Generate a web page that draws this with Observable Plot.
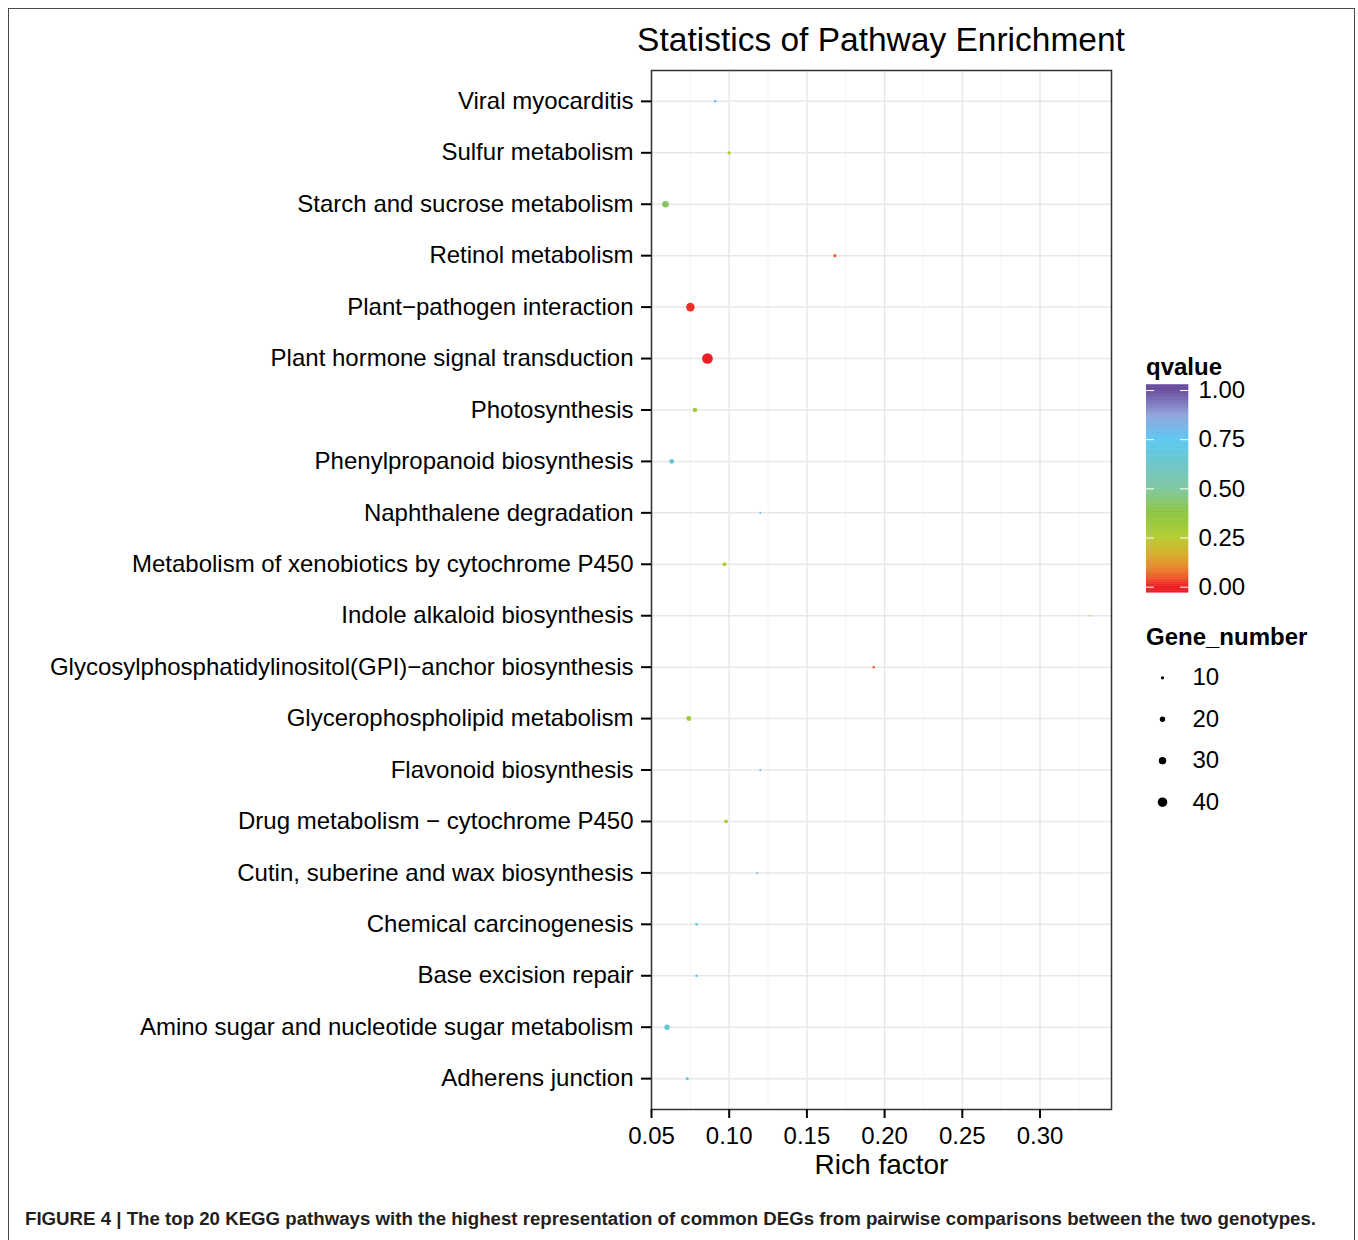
<!DOCTYPE html>
<html>
<head>
<meta charset="utf-8">
<script src="https://cdn.jsdelivr.net/npm/d3@7"></script>
<script src="https://cdn.jsdelivr.net/npm/@observablehq/plot@0.6"></script>
<style>
  body { margin: 0; background: #fff; font-family: "Liberation Sans", Arial, Helvetica, sans-serif; }
  #wrap { position: relative; width: 1358px; height: 1240px; overflow: hidden; background: #fff; }
  #frame { position: absolute; left: 8px; top: 8px; width: 1347px; height: 1300px; border: 1.5px solid #4a4a4a; box-sizing: border-box; }
  #title { position: absolute; left: 581px; width: 600px; top: 20px; text-align: center; font-size: 33.5px; line-height: 40px; color: #000; white-space: nowrap; }
  .legtitle { position: absolute; left: 1146px; font-size: 24px; font-weight: bold; color: #000; line-height: 26px; white-space: nowrap; }
  .abs { position: absolute; }
</style>
</head>
<body>
<div id="wrap">
  <div id="frame"></div>
  <div id="main" class="abs" style="left:0;top:0"></div>
  <div id="title">Statistics of Pathway Enrichment</div>
  <div class="legtitle" style="top:354px">qvalue</div>
  <div id="cbar" class="abs" style="left:1146px;top:370px"></div>
  <div class="legtitle" style="top:624px">Gene_number</div>
  <div id="sizeleg" class="abs" style="left:1140px;top:650px"></div>
  <svg class="abs" style="left:0;top:1195px" width="1358" height="45">
    <text x="25" y="30" font-size="18" font-weight="bold" fill="#231f20" textLength="1291" lengthAdjust="spacingAndGlyphs" font-family="Liberation Sans, Arial, sans-serif">FIGURE 4 | The top 20 KEGG pathways with the highest representation of common DEGs from pairwise comparisons between the two genotypes.</text>
  </svg>
</div>
<script>
// ---- data (top to bottom as in the figure) ----
const pathways = [
  "Viral myocarditis",
  "Sulfur metabolism",
  "Starch and sucrose metabolism",
  "Retinol metabolism",
  "Plant\u2212pathogen interaction",
  "Plant hormone signal transduction",
  "Photosynthesis",
  "Phenylpropanoid biosynthesis",
  "Naphthalene degradation",
  "Metabolism of xenobiotics by cytochrome P450",
  "Indole alkaloid biosynthesis",
  "Glycosylphosphatidylinositol(GPI)\u2212anchor biosynthesis",
  "Glycerophospholipid metabolism",
  "Flavonoid biosynthesis",
  "Drug metabolism \u2212 cytochrome P450",
  "Cutin, suberine and wax biosynthesis",
  "Chemical carcinogenesis",
  "Base excision repair",
  "Amino sugar and nucleotide sugar metabolism",
  "Adherens junction"
];
const richFactor = [0.091, 0.100, 0.059, 0.168, 0.075, 0.086, 0.078, 0.063, 0.120, 0.097,
                    0.332, 0.193, 0.074, 0.120, 0.098, 0.118, 0.079, 0.079, 0.060, 0.073];
const qvalue = [0.78, 0.27, 0.42, 0.05, 0.015, 0.0, 0.30, 0.66, 0.78, 0.26,
                0.28, 0.06, 0.29, 0.78, 0.27, 0.82, 0.77, 0.77, 0.66, 0.74];
const geneNumber = [7, 10, 26, 9, 35, 45, 15, 17, 4, 13,
                    2, 6, 18, 4, 12, 4, 7, 7, 20, 9];

const xTicks = [0.05, 0.10, 0.15, 0.20, 0.25, 0.30];
const xMinor = [0.075, 0.125, 0.175, 0.225, 0.275, 0.325];
const qTicks = [0, 0.25, 0.5, 0.75, 1];
const sizeTicks = [10, 20, 30, 40];

const data = pathways.map((p, i) => ({pathway: p, rich: richFactor[i], q: qvalue[i], genes: geneNumber[i]}));

// scales shared by the plot and the legends
const colorScale = {
  type: "linear",
  domain: [0, 0.05, 0.1, 0.16, 0.25, 0.3, 0.375, 0.5, 0.625, 0.75, 0.875, 1],
  range: ["#ee1c25", "#f05a28", "#e8862a", "#d8aa28", "#b8cc30", "#a2ca36", "#8dc63f", "#80c7a0", "#6cc6c8", "#5bc8f2", "#8fa3dc", "#6a4c9f"],
  clamp: true
};
const rScale = {type: "linear", domain: [10, 40], range: [1.65, 4.8]};
const font = "Liberation Sans, Arial, Helvetica, sans-serif";

// ---- main plot ----
const main = Plot.plot({
  width: 1358,
  height: 1192,
  marginLeft: 651,
  marginRight: 247,
  marginTop: 70,
  marginBottom: 83,
  style: {fontFamily: font, fontSize: "24px", color: "#000", background: "transparent"},
  x: {domain: [0.05, 0.346], label: null},
  y: {type: "point", domain: pathways, padding: 0.6, round: false, label: null},
  r: rScale,
  color: colorScale,
  marks: [
    Plot.ruleX(xMinor, {stroke: "#f4f4f4", strokeWidth: 1}),
    Plot.ruleX(xTicks, {stroke: "#e8e8e8", strokeWidth: 1.5}),
    Plot.ruleY(pathways, {y: d => d, stroke: "#e8e8e8", strokeWidth: 1.5}),
    Plot.dot(data, {x: "rich", y: "pathway", r: "genes", fill: "q", stroke: null}),
    Plot.frame({stroke: "#333", strokeWidth: 1.5}),
    Plot.axisX({ticks: xTicks, tickFormat: ".2f", tickSize: 9, tickPadding: 8, strokeWidth: 2, fontSize: 24, label: null}),
    Plot.axisY({tickSize: 10, tickPadding: 8, strokeWidth: 2, fontSize: 24, label: null}),
    Plot.text(["Rich factor"], {frameAnchor: "bottom", lineAnchor: "middle", dy: 56, fontSize: 28, fill: "#000"})
  ]
});
document.getElementById("main").appendChild(main);

// ---- colour bar legend ----
const nSteps = 120;
const lo = -0.028, hi = 1.028;
const steps = d3.range(nSteps).map(i => {
  const a = lo + (hi - lo) * i / nSteps;
  const b = lo + (hi - lo) * (i + 1) / nSteps;
  return {a, b, m: (a + b) / 2};
});
const cbar = Plot.plot({
  width: 130,
  height: 240,
  margin: 0,
  style: {fontFamily: font, fontSize: "24px", color: "#000", background: "transparent"},
  x: {domain: [0, 130], range: [0, 130], axis: null},
  y: {domain: [0, 1], range: [216.7, 20], axis: null},
  color: colorScale,
  marks: [
    Plot.rect(steps, {x1: 0, x2: 42, y1: "a", y2: "b", fill: "m", stroke: "m", strokeWidth: 0.5}),
    Plot.ruleY(qTicks, {x1: 0, x2: 8, stroke: "#fff", strokeWidth: 1}),
    Plot.ruleY(qTicks, {x1: 34, x2: 42, stroke: "#fff", strokeWidth: 1}),
    Plot.text(qTicks, {x: 52, y: d => d, text: d => d3.format(".2f")(d), textAnchor: "start", fontSize: 24, fill: "#000"})
  ]
});
document.getElementById("cbar").appendChild(cbar);

// ---- size legend ----
const sizeleg = Plot.plot({
  width: 130,
  height: 175,
  margin: 0,
  style: {fontFamily: font, fontSize: "24px", color: "#000", background: "transparent"},
  x: {domain: [0, 130], range: [0, 130], axis: null},
  y: {type: "point", domain: sizeTicks, range: [27.3, 151.7], padding: 0, round: false, axis: null},
  r: rScale,
  marks: [
    Plot.dot(sizeTicks, {x: 22, y: d => d, r: d => d, fill: "#000", stroke: null}),
    Plot.text(sizeTicks, {x: 52, y: d => d, text: d => String(d), textAnchor: "start", fontSize: 24, fill: "#000"})
  ]
});
document.getElementById("sizeleg").appendChild(sizeleg);
</script>
</body>
</html>
